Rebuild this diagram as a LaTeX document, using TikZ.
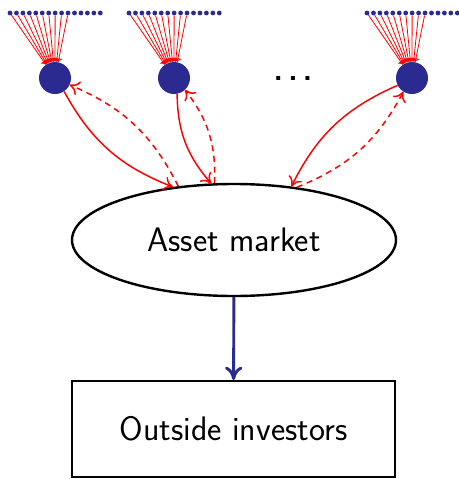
\documentclass[tikz,border=0pt]{standalone}
\usetikzlibrary{shapes.geometric,arrows.meta}
\definecolor{agentblue}{RGB}{42,42,145}

\begin{document}
\begin{tikzpicture}[x=0.75pt,y=-0.75pt,
        font=\fontsize{25.5}{30}\selectfont\sffamily,
        agent/.style={circle,fill=agentblue,minimum size=24pt,inner sep=0pt},
        seller/.style={circle,fill=agentblue,minimum size=3.6pt,inner sep=0pt},
        order/.style={red,line width=0.6pt,-{To[length=3pt,width=5pt]}},
        trade/.style={red,line width=1.1pt,-{To[length=7pt,width=11pt]},bend right=20},
        quote/.style={trade,dash pattern=on 4.5pt off 3.5pt}]
    \useasboundingbox (0,0) rectangle (458,479);
    % traders and their order flow
    \foreach \k/\x in {1/10,2/129,3/367} {
        \node[agent] (b\k) at (\x+45,78) {};
        \foreach \i in {0,...,14}
            \node[seller] (d\k-\i) at (\x+6.45*\i,13) {};
        \foreach \i in {0,...,9}
            \draw[order] (d\k-\i) -- (b\k);
    }
    \node[anchor=base,inner sep=0pt,font=\fontsize{23}{28}\selectfont\sffamily\bfseries] (more) at (293,80) {.\kern3.9pt.\kern3.9pt.};
    \node[ellipse,draw,line width=1.8pt,minimum width=243pt,minimum height=84pt] (market) at (234,240) {Asset market};
    \node[rectangle,draw,line width=1.5pt,minimum width=242pt,minimum height=72pt] (outside) at (233.5,429) {Outside investors};
    % trades with the market
    \draw[trade] (b1.-56) to (market.139);
    \draw[quote] (market.136) to (b1.-25);
    \draw[trade] (b2.-79) to (market.112);
    \draw[quote] (market.109) to (b2.-47);
    \draw[trade] (b3.207) to (market.43);
    \draw[quote] (market.40) to (b3.238);
    \draw[agentblue,line width=2.2pt,-{To[length=10pt,width=13pt]}] (market) -- (outside);
\end{tikzpicture}
\end{document}
